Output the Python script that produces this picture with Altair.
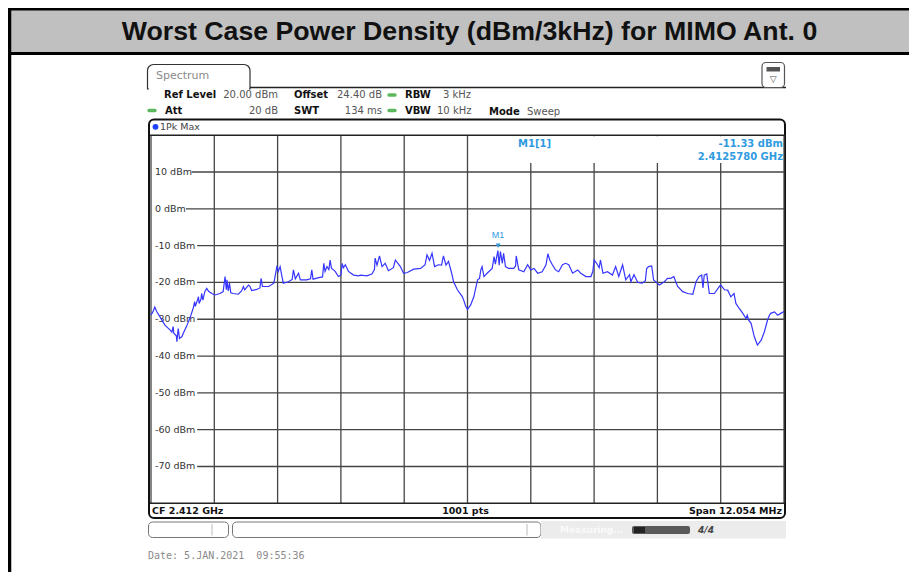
import altair as alt
import pandas as pd

# ---------------- data ----------------
sweep_idx = [0, 3, 6, 9, 14, 22, 30, 33, 35, 36, 40, 41, 42, 43, 45, 49, 51, 56, 62, 67,
             69, 70, 73, 75, 76, 79, 80, 82, 85, 88, 91, 96, 101, 109, 114, 117, 119, 120, 122, 124,
             126, 130, 138, 143, 146, 148, 154, 156, 159, 167, 172, 174, 176, 186, 194, 196, 199, 201, 204, 207,
             209, 217, 223, 225, 228, 233, 236, 246, 252, 254, 256, 265, 271, 273, 275, 278, 281, 283, 285, 291,
             296, 300, 302, 304, 307, 312, 320, 328, 331, 341, 349, 353, 354, 357, 361, 365, 370, 375, 383, 386,
             390, 394, 399, 405, 415, 426, 433, 436, 440, 444, 448, 454, 459, 462, 466, 470, 475, 478, 484, 492,
             494, 497, 500, 505, 510, 514, 516, 519, 521, 523, 526, 531, 539, 542, 544, 548, 550, 552, 555, 557,
             560, 565, 573, 576, 577, 581, 589, 595, 600, 605, 611, 618, 624, 627, 630, 634, 639, 644, 650, 655,
             660, 666, 674, 679, 687, 695, 698, 700, 704, 708, 710, 714, 721, 729, 734, 739, 745, 750, 756, 758,
             763, 769, 776, 781, 783, 786, 791, 794, 803, 811, 816, 821, 826, 829, 832, 840, 848, 856, 861, 866,
             870, 872, 874, 878, 882, 890, 898, 900, 906, 911, 916, 921, 924, 929, 935, 940, 942, 944, 948, 953,
             958, 964, 969, 974, 977, 979, 985, 990, 995, 1000]
level_dbm = [-28.8, -28.0, -26.7, -27.9, -29.3, -31.6, -32.9, -33.5, -32.0, -33.8, -34.5, -36.1, -34.0, -32.5, -35.2, -34.7, -33.8, -32.0, -29.5, -26.8,
             -25.2, -26.5, -25.0, -23.9, -25.7, -24.5, -23.0, -24.8, -22.5, -21.6, -22.4, -23.0, -23.4, -23.0, -22.5, -18.4, -22.0, -19.3, -22.3, -20.2,
             -22.8, -23.0, -23.2, -22.3, -21.1, -22.0, -20.7, -21.0, -22.2, -21.9, -21.5, -18.9, -21.1, -21.1, -20.2, -18.4, -15.5, -17.0, -15.7, -18.5,
             -20.2, -19.8, -19.2, -16.6, -19.0, -17.5, -19.3, -19.3, -19.0, -16.6, -19.1, -18.7, -18.5, -14.8, -17.0, -15.7, -16.5, -13.9, -16.1, -17.0,
             -18.4, -18.0, -14.8, -16.0, -15.2, -17.0, -18.0, -18.2, -18.0, -18.2, -17.7, -16.5, -13.4, -15.3, -12.8, -15.7, -14.8, -16.8, -16.0, -13.9,
             -14.8, -15.7, -17.5, -17.3, -16.4, -16.2, -15.2, -12.5, -14.0, -12.1, -15.7, -15.2, -15.3, -12.8, -15.3, -14.3, -17.5, -19.8, -22.0, -23.9,
             -24.8, -26.4, -27.3, -26.1, -23.9, -20.7, -19.3, -18.9, -16.6, -15.7, -18.4, -17.5, -16.2, -13.0, -15.0, -11.33, -15.3, -11.6, -14.8, -12.1,
             -15.7, -16.2, -16.2, -15.5, -12.8, -16.6, -17.1, -15.2, -16.6, -16.2, -17.5, -17.1, -15.2, -12.2, -13.9, -15.2, -16.6, -17.1, -15.2, -14.8,
             -15.2, -17.5, -16.6, -17.5, -18.4, -18.4, -17.0, -13.9, -14.8, -16.0, -13.9, -17.5, -17.1, -18.0, -15.7, -18.4, -15.2, -19.3, -17.9, -19.8,
             -17.9, -20.0, -20.2, -19.5, -16.2, -15.7, -15.5, -19.3, -20.7, -19.8, -18.9, -18.9, -18.4, -19.8, -21.1, -22.5, -23.0, -23.2, -19.8, -18.4,
             -18.0, -21.5, -18.0, -17.7, -23.0, -23.0, -21.1, -20.7, -22.0, -22.1, -23.9, -23.0, -25.7, -27.0, -28.4, -29.8, -28.9, -30.2, -31.1, -34.7,
             -37.0, -35.7, -33.4, -30.2, -28.9, -28.4, -28.0, -28.9, -28.4, -27.9]

grid_idx = [0, 100, 200, 300, 400, 500, 600, 700, 800, 900, 1000]
y_ticks = [10, 0, -10, -20, -30, -40, -50, -60, -70]
y_tick_labels = ["10 dBm", "0 dBm", "-10 dBm", "-20 dBm", "-30 dBm", "-40 dBm", "-50 dBm", "-60 dBm", "-70 dBm"]
frame_levels = [20, -80]
marker_idx = [548]
marker_level = [-11.33]

title_text = "Worst Case Power Density (dBm/3kHz) for MIMO Ant. 0"

# ---------------- layout helpers ----------------
OX, OY = 8, 8
W, H = 901, 564
GX0, GX1 = 151, 784          # page x of the grid
GY0, GY1 = 135.2, 503.3      # page y of 20 dBm and -80 dBm
ONE = pd.DataFrame({"k": [0]})
XS = alt.Scale(domain=[0, 1000], range=[GX0 - OX, GX1 - OX], nice=False, zero=False)
YS = alt.Scale(domain=[-80, 20], range=[GY1 - OY, GY0 - OY], nice=False, zero=False)

layers = []


def T(s, x, y, size=10, weight="normal", color="#333333", align="left", font="DejaVu Sans", **kw):
    layers.append(alt.Chart(ONE).mark_text(text=s, align=align, baseline="middle", fontSize=size,
                                           fontWeight=weight, color=color, font=font, **kw)
                  .encode(x=alt.value(x - OX), y=alt.value(y - OY)))


def R(x1, y1, x2, y2, **kw):
    layers.append(alt.Chart(ONE).mark_rect(**kw).encode(
        x=alt.value(x1 - OX), x2=alt.value(x2 - OX), y=alt.value(y1 - OY), y2=alt.value(y2 - OY)))


def L(x1, y1, x2, y2, color="#000000", w=1.0):
    layers.append(alt.Chart(ONE).mark_rule(color=color, strokeWidth=w).encode(
        x=alt.value(x1 - OX), x2=alt.value(x2 - OX), y=alt.value(y1 - OY), y2=alt.value(y2 - OY)))


PILL = "M-1,-0.55 L1,-0.55 A0.55,0.55 0 0 1 1,0.55 L-1,0.55 A0.55,0.55 0 0 1 -1,-0.55 Z"


def dot(x, y, color="#5cb85c", size=36, shape=PILL):
    layers.append(alt.Chart(ONE).mark_point(shape=shape, filled=True, size=size, color=color, opacity=1)
                  .encode(x=alt.value(x - OX), y=alt.value(y - OY)))


# ---------------- title bar & outer frame ----------------
R(8, 8, 917, 54, fill="#c0c0c0")
L(8, 9.2, 917, 9.2, w=2.5)
L(8, 53.5, 917, 53.5, w=3)
L(9.5, 8, 9.5, 584, w=3.5)
T(title_text, 469.5, 31.5, size=26.7, weight="bold", color="#111111", align="center", font="Liberation Sans")

# ---------------- spectrum tab & icon ----------------
R(147.5, 64.5, 250, 89, fill="white", stroke="#333333", strokeWidth=1.2,
  cornerRadiusTopLeft=6, cornerRadiusTopRight=6)
L(149, 89, 249, 89, color="white", w=2.5)
L(250, 87.5, 786, 87.5, color="#222222", w=1.5)
T("Spectrum", 156, 76, size=11, color="#8a8a8a")
R(762, 62.5, 784.5, 87.5, fill="white", stroke="#555555", strokeWidth=1.2, cornerRadius=4)
R(766.5, 67, 780, 71.5, fill="#555555")
T("\u25bd", 773.2, 78.5, size=9, color="#555555", align="center")

# ---------------- header rows ----------------
r1, r2 = 95, 110.5
T("Ref Level", 164, r1, size=10, weight="bold", color="#111111")
T("20.00 dBm", 278, r1, size=10, color="#555555", align="right")
T("Offset", 294, r1, size=10, weight="bold", color="#111111")
T("24.40 dB", 382, r1, size=10, color="#555555", align="right")
dot(392, r1)
T("RBW", 405, r1, size=10, weight="bold", color="#111111")
T("3 kHz", 443, r1, size=10, color="#555555")
dot(152, r2)
T("Att", 165, r2, size=10, weight="bold", color="#111111")
T("20 dB", 278, r2, size=10, color="#555555", align="right")
T("SWT", 294, r2, size=10, weight="bold", color="#111111")
T("134 ms", 382, r2, size=10, color="#555555", align="right")
dot(392, r2)
T("VBW", 405, r2, size=10, weight="bold", color="#111111")
T("10 kHz", 437, r2, size=10, color="#555555")
T("Mode", 489, r2 + 1, size=10, weight="bold", color="#111111")
T("Sweep", 527, r2 + 1, size=10, color="#555555")

# ---------------- screen frame ----------------
R(149, 119.5, 785, 518, fill="white", stroke="#111111", strokeWidth=2, cornerRadius=5)
dot(155.5, 126.8, color="#1f3fff", size=34, shape="circle")
T("1Pk Max", 160, 126.8, size=9.5, color="#444444")

# grid (vertical)
grid_df = pd.DataFrame({"idx": grid_idx})
layers.append(alt.Chart(grid_df).mark_rule(color="#454545", strokeWidth=1.3).encode(
    x=alt.X("idx:Q", scale=XS, axis=None),
    y=alt.value(GY0 - OY), y2=alt.value(GY1 - OY)))
# grid (horizontal, starting after each label)
for v, lab in zip(y_ticks, y_tick_labels):
    start = 158 + 5.6 * len(lab)
    layers.append(alt.Chart(pd.DataFrame({"lev": [v]})).mark_rule(color="#454545", strokeWidth=1.3).encode(
        y=alt.Y("lev:Q", scale=YS, axis=None), x=alt.value(start - OX), x2=alt.value(GX1 - OX)))
layers.append(alt.Chart(pd.DataFrame({"lev": frame_levels})).mark_rule(color="#222222", strokeWidth=1.5).encode(
    y=alt.Y("lev:Q", scale=YS, axis=None), x=alt.value(150 - OX), x2=alt.value(GX1 - OX)))

# marker info box
R(469, 136.2, 783, 163, fill="white")
T("M1[1]", 518, 143.5, size=10, weight="bold", color="#2f9be0")
T("-11.33 dBm", 783, 143.5, size=10, weight="bold", color="#2f9be0", align="right")
T("2.4125780 GHz", 783, 157, size=10, weight="bold", color="#2f9be0", align="right")

# y tick labels
tick_df = pd.DataFrame({"lev": y_ticks, "lab": y_tick_labels})
layers.append(alt.Chart(tick_df).mark_text(align="left", baseline="middle", fontSize=9.5,
                                           font="DejaVu Sans", color="#333333").encode(
    y=alt.Y("lev:Q", scale=YS, axis=None), x=alt.value(155 - OX), text="lab:N"))

# bottom info row
T("CF 2.412 GHz", 152, 510.5, size=9.5, weight="bold", color="#111111")
T("1001 pts", 465.5, 510.5, size=9.5, weight="bold", color="#111111", align="center")
T("Span 12.054 MHz", 782, 510.5, size=9.5, weight="bold", color="#111111", align="right")

# trace
trace_df = pd.DataFrame({"idx": sweep_idx, "lev": level_dbm})
layers.append(alt.Chart(trace_df).mark_line(color="#3535ff", strokeWidth=1.2).encode(
    x=alt.X("idx:Q", scale=XS, axis=None), y=alt.Y("lev:Q", scale=YS, axis=None)))

# marker
mk_df = pd.DataFrame({"idx": marker_idx, "lev": marker_level})
layers.append(alt.Chart(mk_df).mark_text(text="\u25bc", dy=-5, fontSize=8, color="#2f9be0").encode(
    x=alt.X("idx:Q", scale=XS, axis=None), y=alt.Y("lev:Q", scale=YS, axis=None)))
layers.append(alt.Chart(mk_df).mark_text(text="M1", dy=-16, fontSize=9, color="#2f9be0").encode(
    x=alt.X("idx:Q", scale=XS, axis=None), y=alt.Y("lev:Q", scale=YS, axis=None)))

# ---------------- status bar ----------------
R(148.5, 522, 228.5, 537.5, fill="white", stroke="#777777", strokeWidth=1, cornerRadius=4)
L(212, 524, 212, 535.5, color="#bbbbbb", w=1)
R(232.5, 522, 541, 537.5, fill="white", stroke="#777777", strokeWidth=1, cornerRadius=4)
L(527, 524, 527, 535.5, color="#bbbbbb", w=1)
R(541, 521, 786, 538.5, fill="#ececec")
T("Measuring...", 560, 530, size=9, color="#fafafa", weight="bold")
R(632, 526, 690, 534, fill="#5a5a5a", cornerRadius=2)
R(634, 527, 645, 533, fill="#222222")
T("4/4", 706, 530, size=9, color="#444444", weight="bold", align="center", fontStyle="italic")

# date
T("Date: 5.JAN.2021\u00a0\u00a009:55:36", 148, 556, size=10, color="#8a8a8a", font="DejaVu Sans Mono")

chart = alt.layer(*layers).properties(
    width=W, height=H, autosize=alt.AutoSizeParams(type="none"), padding=0, background="white"
).configure_view(strokeWidth=0)

chart.save("out.html", embed_options={"renderer": "svg", "actions": False})
